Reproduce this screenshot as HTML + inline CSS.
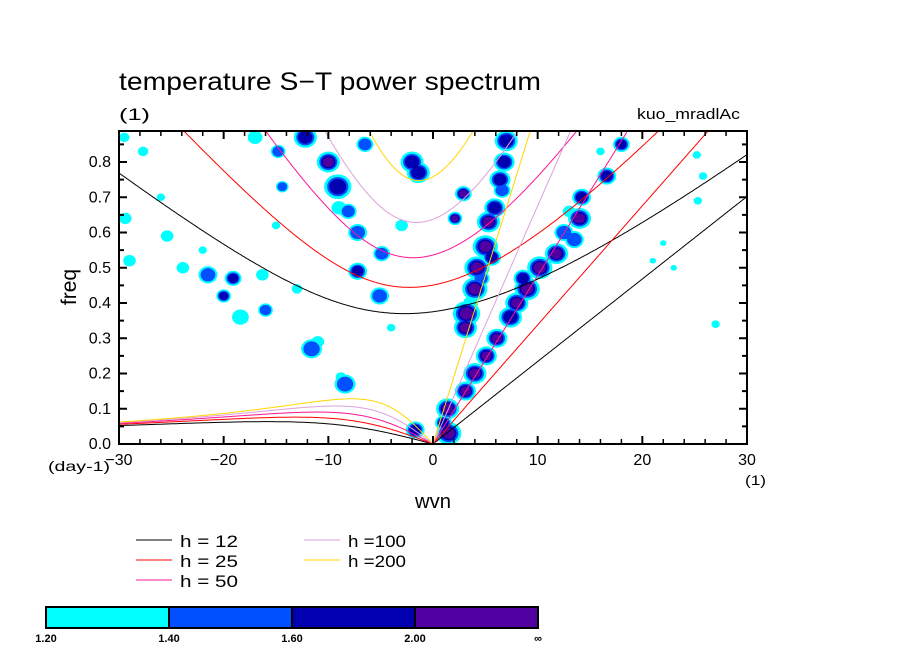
<!DOCTYPE html>
<html><head><meta charset="utf-8"><style>
body{margin:0;background:#fff;width:904px;height:654px;overflow:hidden}
svg{display:block}
text{font-family:"Liberation Sans",sans-serif;fill:#000}
</style></head><body>
<svg id="c" width="904" height="654" xmlns="http://www.w3.org/2000/svg">
<defs><clipPath id="pc"><rect x="119" y="131" width="628" height="313"/></clipPath></defs>
<text x="119" y="90" font-size="25" textLength="422" lengthAdjust="spacingAndGlyphs">temperature S−T power spectrum</text>
<text x="119" y="120" font-size="17" textLength="31" lengthAdjust="spacingAndGlyphs">(1)</text>
<text x="637" y="119" font-size="15" textLength="103" lengthAdjust="spacingAndGlyphs">kuo_mradlAc</text>
<text x="76" y="287" font-size="21" text-anchor="middle" transform="rotate(-90 76 287)">freq</text>
<text x="415" y="508" font-size="20" textLength="36" lengthAdjust="spacingAndGlyphs">wvn</text>
<text x="48" y="471" font-size="14" textLength="62" lengthAdjust="spacingAndGlyphs">(day-1)</text>
<text x="745" y="485" font-size="14" textLength="21" lengthAdjust="spacingAndGlyphs">(1)</text>
<g id="blobs" clip-path="url(#pc)"></g>
<g id="curves" clip-path="url(#pc)"></g>
<g id="axes"></g>
<g id="legend"></g>
<g id="cbar"></g>
</svg>
<script>
const depths=[12,25,50,100,200];
const depthColors=["#000000","#ff0000","#ff1493","#dda0dd","#ffd700"];
const levelLabels=["1.20","1.40","1.60","2.00","∞"];
const levelColors=["#00ffff","#0050ff","#0000b0","#5000a0"];
const xTicks=[-30,-20,-10,0,10,20,30];
const yTicks=[0,0.1,0.2,0.3,0.4,0.5,0.6,0.7,0.8];
// blobs: wavenumber, frequency, level(1-4), size
const blobWvn=[1.5,1.4,3.1,4.0,5.1,6.1,3.1,3.2,4.0,4.2,5.0,5.3,5.9,6.4,7.0,2.9,2.1,7.4,8.0,9.0,10.2,11.8,14,14.2,16.6,18,12.5,13.5,-12.2,-10.0,-9.1,-2.0,-1.4,-8.1,-7.2,-7.2,-5.1,-4.9,-19.1,-21.5,-20,-23.9,-18.4,-16,-11.6,-8.4,-14.4,-14.8,-17,-9,-1.7,-25.4,-29.4,-29,-27.7,-29.5,-16.3,25.8,25.2,25.3,22,27,21,23,1.0,6.8,5.6,8.6,-6.5,-3,3.6,4.6,6.6,13,-11,-8.8,-22,-26,-15,-13,-4,16];
const blobFreq=[0.03,0.10,0.15,0.20,0.25,0.30,0.33,0.37,0.44,0.50,0.56,0.63,0.67,0.75,0.86,0.71,0.64,0.36,0.40,0.44,0.50,0.54,0.64,0.70,0.76,0.85,0.60,0.58,0.87,0.80,0.73,0.80,0.77,0.66,0.60,0.49,0.42,0.54,0.47,0.48,0.42,0.50,0.36,0.38,0.27,0.17,0.73,0.83,0.87,0.67,0.04,0.59,0.64,0.52,0.83,0.87,0.48,0.76,0.82,0.69,0.57,0.34,0.52,0.50,0.06,0.80,0.53,0.47,0.85,0.62,0.40,0.47,0.72,0.66,0.29,0.19,0.55,0.70,0.62,0.44,0.33,0.83];
const blobLevel=[4,4,4,4,4,4,4,4,4,4,4,4,3,3,3,4,4,3,4,4,4,4,4,3,3,3,2,2,3,4,3,3,3,2,2,3,2,2,3,2,3,1,1,2,2,2,2,2,1,1,3,1,1,1,1,1,1,1,1,1,1,1,1,1,3,3,3,3,2,1,1,2,2,1,1,1,1,1,1,1,1,1];
const blobSize=[12,11,10,11,10,10,11,13,12,12,12,11,10,10,11,8,7,11,11,12,12,11,11,9,9,8,9,9,11,11,13,11,11,8,9,9,9,8,8,9,7,6,8,7,10,10,6,7,7,7,9,6,6,6,5,5,6,4,4,4,3,4,3,3,8,10,9,9,8,6,7,8,8,6,6,5,4,4,4,5,4,4];
const NS="http://www.w3.org/2000/svg";
const X0=119,X1=747,Y0=444,Y1=131;
const sx=w=>X0+(w+30)/60*(X1-X0);
const sy=f=>Y0-f/0.1*35.25;
function mk(t,a,p){const e=document.createElementNS(NS,t);for(const k in a)e.setAttribute(k,a[k]);p.appendChild(e);return e;}
const bg=document.getElementById('blobs');
const scales=[1,0.78,0.62,0.48];
for(let L=0;L<4;L++){
 for(let i=0;i<blobWvn.length;i++){
  if(blobLevel[i]<=L)continue;
  const r=blobSize[i]*scales[L];
  const e=mk('ellipse',{cx:sx(blobWvn[i]),cy:sy(blobFreq[i]),rx:r*1.05,ry:r*0.95,fill:levelColors[L]},bg);
  
  
 }
}
const a=6.371e6,Om=7.292e-5,beta=2*Om/a,g=9.8,toCpd=86400/(2*Math.PI);
function roots(s,c){
 const k=s/a;const p=-c*c*(k*k+3*beta/c),q=-beta*c*c*k;
 const m=2*Math.sqrt(-p/3);const arg=Math.max(-1,Math.min(1,(3*q/(p*m))));
 const th=Math.acos(arg)/3;const r=[0,1,2].map(j=>m*Math.cos(th-2*Math.PI*j/3));
 return r.sort((u,v)=>u-v);
}
const cg=document.getElementById('curves');
depths.forEach((h,i)=>{
 const c=Math.sqrt(g*h);let ig=[],ro=[],kel=[];
 for(let s=-30;s<=30.001;s+=0.1){
  const r=roots(s,c);
  ig.push([sx(s),sy(r[2]*toCpd)]);
  if(s<=0.001)ro.push([sx(s),sy(Math.max(0,r[1])*toCpd)]);
  if(s>=-0.001)kel.push([sx(s),sy(c*s/a*toCpd)]);
 }
 [[ig,'ig'],[ro,'rossby'],[kel,'kelvin']].forEach(([pts,n])=>{
  const e=mk('polyline',{points:pts.map(p=>p[0].toFixed(1)+','+p[1].toFixed(1)).join(' '),fill:'none',stroke:depthColors[i],'stroke-width':1},cg);
  
  
 });
});
const ax=document.getElementById('axes');
mk('rect',{x:X0,y:Y1,width:X1-X0,height:Y0-Y1,fill:'none',stroke:'#000','stroke-width':2},ax);
for(let w=-30;w<=30;w+=2){const x=sx(w);const maj=w%10===0;const L=maj?8:5;
 mk('line',{x1:x,y1:Y0,x2:x,y2:Y0-L,stroke:'#000','stroke-width':maj?2:1.5},ax);
 mk('line',{x1:x,y1:Y1,x2:x,y2:Y1+L,stroke:'#000','stroke-width':maj?2:1.5},ax);}
for(let f=0;f<=0.88;f+=0.05){const y=sy(f);const maj=Math.round(f*100)%10===0;const L=maj?8:5;
 mk('line',{x1:X0,y1:y,x2:X0+L,y2:y,stroke:'#000','stroke-width':2},ax);
 mk('line',{x1:X1,y1:y,x2:X1-L,y2:y,stroke:'#000','stroke-width':2},ax);}
xTicks.forEach(w=>{const t=mk('text',{x:sx(w),y:465,'font-size':16,'text-anchor':'middle'},ax);t.textContent=(w<0?'−':'')+Math.abs(w);
 });
yTicks.forEach(f=>{const t=mk('text',{x:111,y:sy(f)+5,'font-size':16,'text-anchor':'end'},ax);t.textContent=f.toFixed(1);
 });
const lg=document.getElementById('legend');
const lpos=[[136,540],[136,560],[136,580],[304,540],[304,560]];
const ltxt=["h = 12","h = 25","h = 50","h =100","h =200"];
depths.forEach((h,i)=>{const [x,y]=lpos[i];
 mk('line',{x1:x,y1:y,x2:x+36,y2:y,stroke:depthColors[i],'stroke-width':1},lg);
 const t=mk('text',{x:x+44,y:y+7,'font-size':17,textLength:58,lengthAdjust:'spacingAndGlyphs','xml:space':'preserve'},lg);t.textContent=ltxt[i];
 });
const cb=document.getElementById('cbar');
const bx=[46,169,292,415,538];
for(let i=0;i<4;i++){const e=mk('rect',{x:bx[i],y:607,width:bx[i+1]-bx[i],height:21,fill:levelColors[i],stroke:'#000','stroke-width':2},cb);
 }
levelLabels.forEach((l,i)=>{const t=mk('text',{x:bx[i],y:642,'font-size':11,'font-weight':'bold','text-anchor':'middle'},cb);t.textContent=l;
 });
</script>
</body></html>
